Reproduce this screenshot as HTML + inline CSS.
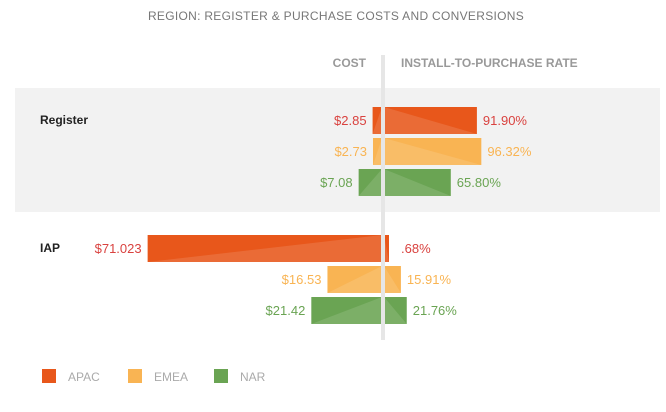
<!DOCTYPE html>
<html><head><meta charset="utf-8"><style>
body{margin:0;background:#fff;width:666px;height:412px;overflow:hidden;font-family:"Liberation Sans",sans-serif}
svg{display:block}
</style></head><body>
<svg id="c" width="666" height="412">
<text x="336" y="20" text-anchor="middle" font-size="12" fill="#777" letter-spacing="0.3">REGION: REGISTER &amp; PURCHASE COSTS AND CONVERSIONS</text>
<rect x="15" y="88" width="645" height="124" fill="#f2f2f2"/>
<text x="366" y="67" text-anchor="end" font-size="12" font-weight="bold" fill="#999">COST</text>
<text x="401" y="67" font-size="12" font-weight="bold" fill="#999">INSTALL-TO-PURCHASE RATE</text>
<g id="marks"></g>
<rect x="381" y="55" width="4" height="285" fill="#e6e6e6"/>
</svg>
<script>
const groups=["Register","IAP"];
const regions=["APAC","EMEA","NAR"];
const costVals=[[2.85,2.73,7.08],[71.023,16.53,21.42]];
const costLabels=[["$2.85","$2.73","$7.08"],["$71.023","$16.53","$21.42"]];
const rateVals=[[91.90,96.32,65.80],[0.68,15.91,21.76]];
const rateLabels=[["91.90%","96.32%","65.80%"],[".68%","15.91%","21.76%"]];
const colors=["#e8571b","#f9b453","#6aa453"];
const textColors=["#d9423f","#f9b453","#6aa453"];
const xCost=v=>v*3.3, xRate=v=>Math.max(4,v*1.0);
const ns="http://www.w3.org/2000/svg";
const g=document.getElementById('marks');
function el(t,a,p){const e=document.createElementNS(ns,t);for(const k in a)e.setAttribute(k,a[k]);(p||g).appendChild(e);return e;}
const groupTop=[107,235];
groups.forEach((gn,gi)=>{
  const t=el('text',{x:40,y:groupTop[gi]+17,'font-size':12,'font-weight':'bold',fill:'#222'});t.textContent=gn;
  
  
  regions.forEach((r,ri)=>{
    const y=groupTop[gi]+ri*31,h=27;
    const cw=xCost(costVals[gi][ri]);
    const cb=el('rect',{x:382-cw,y:y,width:cw,height:h,fill:colors[ri]});
    
    
    const ct=el('polygon',{points:`${382-cw},${y+h} 382,${y} 382,${y+h}`,fill:'#fff','fill-opacity':0.12});
    
    
    const cl=el('text',{x:382-cw-6,y:y+18,'text-anchor':'end','font-size':13,fill:textColors[ri]});cl.textContent=costLabels[gi][ri];
    
    
    const rw=xRate(rateVals[gi][ri]);
    const rb=el('rect',{x:384,y:y,width:rw+1,height:h,fill:colors[ri]});
    
    
    const rt=el('polygon',{points:`384,${y} ${385+rw},${y+h} 384,${y+h}`,fill:'#fff','fill-opacity':0.12});
    
    
    const rl=el('text',{x:385+Math.max(rw,10)+6,y:y+18,'font-size':13,fill:textColors[ri]});rl.textContent=rateLabels[gi][ri];
    
    
  });
});
regions.forEach((r,ri)=>{
  const x=42+ri*86;
  const s=el('rect',{x:x,y:369,width:14,height:14,fill:colors[ri]});
  
  
  const t=el('text',{x:x+26,y:381,'font-size':12,fill:'#aaa'});t.textContent=r;
  
  
});
</script>
</body></html>
